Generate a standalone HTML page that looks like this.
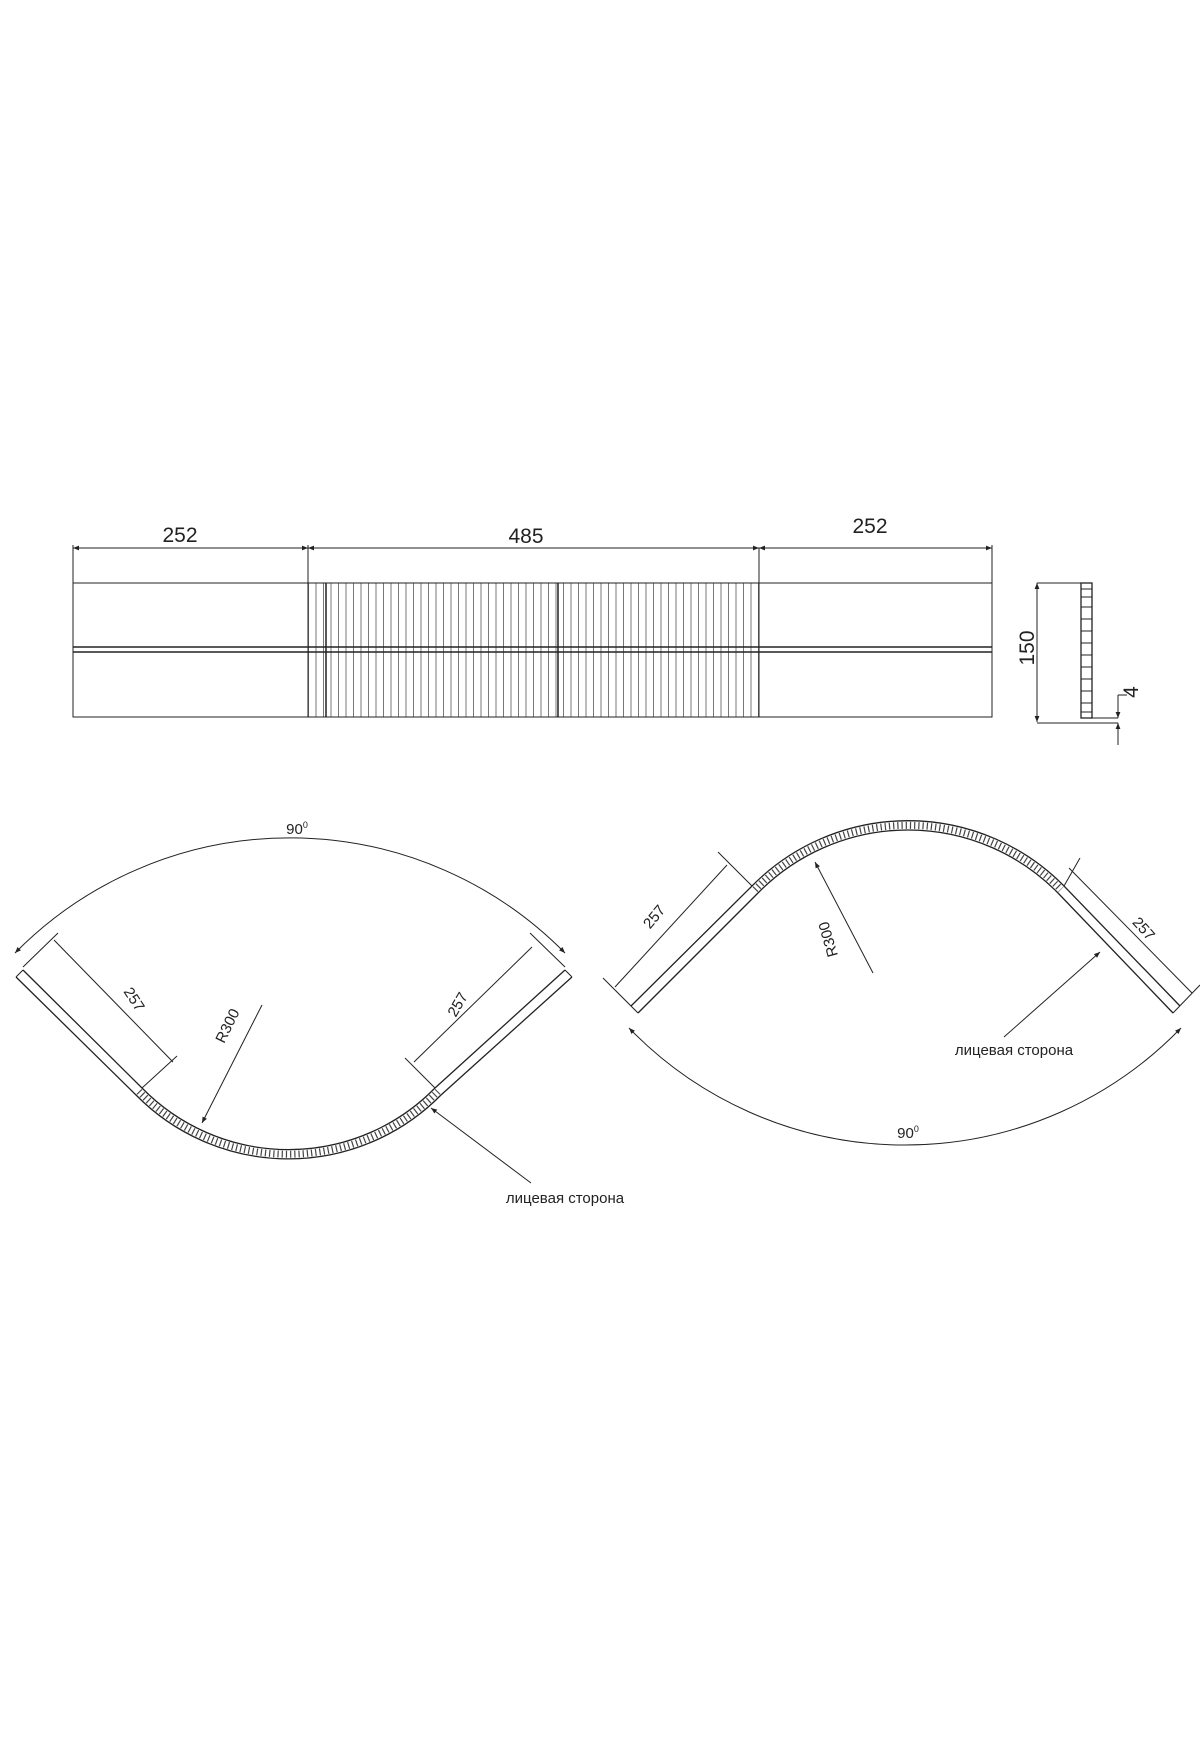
<!DOCTYPE html>
<html><head><meta charset="utf-8"><style>
html,body{margin:0;padding:0;background:#fff;}
svg{display:block;}
text{font-family:"Liberation Sans",sans-serif;fill:#222;}
</style></head><body>
<svg width="1200" height="1760" viewBox="0 0 1200 1760" xmlns="http://www.w3.org/2000/svg">
<defs>
<pattern id="rib" x="308" y="0" width="7.5" height="10" patternUnits="userSpaceOnUse">
<line x1="0.5" y1="0" x2="0.5" y2="10" stroke="#555" stroke-width="0.8"/>
</pattern>
<marker id="ar" viewBox="0 0 10 10" refX="10" refY="5" markerWidth="10" markerHeight="6" orient="auto-start-reverse" markerUnits="userSpaceOnUse">
<path d="M0,1 L10,5 L0,9 z" fill="#222"/>
</marker>
</defs>
<g stroke="#222" fill="none" stroke-width="1">
<!-- top view -->
<rect x="308" y="583" width="451" height="134" fill="url(#rib)" stroke="none"/>
<rect x="73" y="583" width="919" height="134"/>
<line x1="73" y1="647" x2="992" y2="647" stroke-width="1.5"/>
<line x1="73" y1="652" x2="992" y2="652" stroke-width="1.5"/>
<line x1="308" y1="583" x2="308" y2="717"/>
<line x1="759" y1="548" x2="759" y2="717"/>
<line x1="326" y1="583" x2="326" y2="717" stroke-width="1.5"/>
<line x1="558" y1="583" x2="558" y2="717" stroke-width="1.5"/>
<line x1="73" y1="545" x2="73" y2="583"/>
<line x1="308" y1="545" x2="308" y2="583"/>
<line x1="992" y1="545" x2="992" y2="583"/>
<line x1="73" y1="548" x2="308" y2="548" marker-start="url(#ar)" marker-end="url(#ar)"/>
<line x1="308" y1="548" x2="759" y2="548" marker-start="url(#ar)" marker-end="url(#ar)"/>
<line x1="759" y1="548" x2="992" y2="548" marker-start="url(#ar)" marker-end="url(#ar)"/>
<!-- side view -->
<line x1="1037" y1="583" x2="1092" y2="583"/>
<line x1="1037" y1="583" x2="1037" y2="722" marker-start="url(#ar)" marker-end="url(#ar)"/>
<line x1="1037" y1="723" x2="1118" y2="723"/>
<line x1="1081" y1="718" x2="1118" y2="718"/>
<rect x="1081" y="583" width="11" height="135" stroke-width="1.3"/>
<path d="M1081,589 h11 M1081,597 h11 M1081,607 h11 M1081,619 h11 M1081,631 h11 M1081,643 h11 M1081,655 h11 M1081,667 h11 M1081,679 h11 M1081,691 h11 M1081,703 h11 M1081,712 h11"/>
<line x1="1118" y1="695" x2="1127" y2="695"/>
<line x1="1118" y1="695" x2="1118" y2="718" marker-end="url(#ar)"/>
<line x1="1118" y1="745" x2="1118" y2="723" marker-end="url(#ar)"/>
<!-- left fan -->
<path d="M15,953 A386,386 0 0 1 565,953" marker-start="url(#ar)" marker-end="url(#ar)"/>
<path d="M23,970 L142,1088 A205,205 0 0 0 435,1088 L565,970" stroke-width="1.3"/>
<path d="M16,977 L136,1095 A214,214 0 0 0 441,1095 L572,977" stroke-width="1.3"/>
<path d="M139,1091.5 A209.5,209.5 0 0 0 438,1091.5" stroke="#444" stroke-width="7" stroke-dasharray="1.2 3"/>
<path d="M23,970 L16,977 M565,970 L572,977"/>
<line x1="54" y1="940" x2="173" y2="1062"/>
<line x1="23" y1="967" x2="58" y2="933"/>
<line x1="142" y1="1088" x2="177" y2="1056"/>
<line x1="532" y1="947" x2="414" y2="1062"/>
<line x1="565" y1="967" x2="530" y2="933"/>
<line x1="435" y1="1088" x2="405" y2="1058"/>
<line x1="262" y1="1005" x2="202" y2="1123" marker-end="url(#ar)"/>
<line x1="431" y1="1108" x2="531" y2="1183" marker-start="url(#ar)"/>
<!-- right fan -->
<path d="M629,1028 A384,384 0 0 0 1181,1028" marker-start="url(#ar)" marker-end="url(#ar)"/>
<path d="M638,1013 L758,893 A210,210 0 0 1 1058,893 L1173,1013" stroke-width="1.3"/>
<path d="M631,1006 L752,886 A219,219 0 0 1 1064,886 L1180,1006" stroke-width="1.3"/>
<path d="M755,889.5 A214.5,214.5 0 0 1 1061,889.5" stroke="#444" stroke-width="7" stroke-dasharray="1.2 3"/>
<line x1="615" y1="987" x2="727" y2="865"/>
<line x1="638" y1="1013" x2="603" y2="978"/>
<line x1="752" y1="886" x2="718" y2="852"/>
<line x1="1069" y1="868" x2="1192" y2="993"/>
<line x1="1064" y1="886" x2="1080" y2="858"/>
<line x1="1173" y1="1013" x2="1200" y2="985"/>
<line x1="873" y1="973" x2="815" y2="862" marker-end="url(#ar)"/>
<line x1="1100" y1="952" x2="1004" y2="1037" marker-start="url(#ar)"/>
</g>
<g font-size="21" text-anchor="middle">
<text x="180" y="542">252</text>
<text x="526" y="543">485</text>
<text x="870" y="533">252</text>
<text transform="translate(1034,648) rotate(-90)" y="0">150</text>
<text transform="translate(1138,692) rotate(-90)">4</text>
</g>
<g font-size="15" text-anchor="middle">
<text x="297" y="834">90<tspan font-size="9" dy="-6">0</tspan></text>
<text x="908" y="1138">90<tspan font-size="9" dy="-6">0</tspan></text>
<text transform="translate(130,1002) rotate(57)">257</text>
<text transform="translate(462,1007) rotate(-60)">257</text>
<text transform="translate(232,1028) rotate(-64)">R300</text>
<text transform="translate(658,920) rotate(-50)">257</text>
<text transform="translate(1140,932) rotate(48)">257</text>
<text transform="translate(833,938) rotate(-106)">R300</text>
<text x="565" y="1203">лицевая сторона</text>
<text x="1014" y="1055">лицевая сторона</text>
</g>
</svg>
</body></html>
